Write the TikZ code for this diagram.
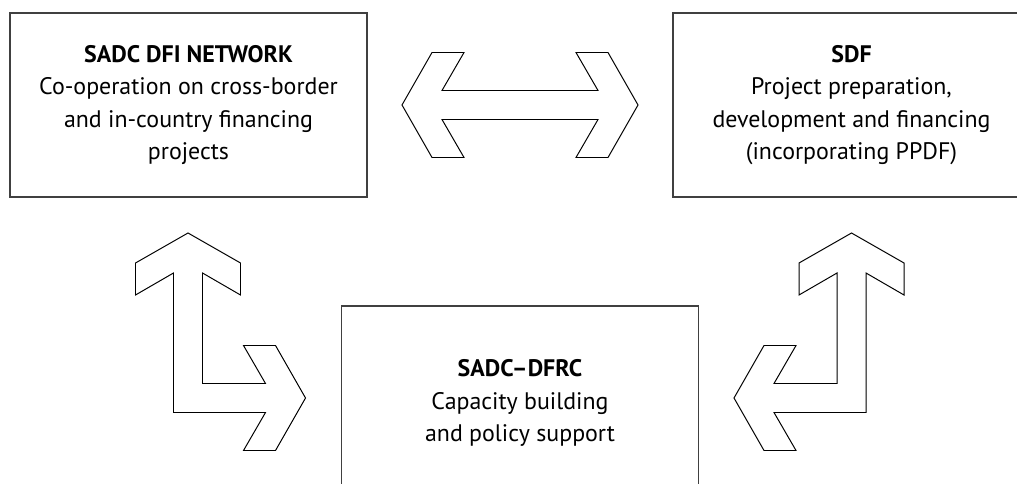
\documentclass[tikz,border=0pt]{standalone}
\usepackage{fontspec}
\setmainfont{PT Sans}
\usepackage{tikz}

\tikzset{
  box/.style={draw=black!75, line width=1pt, minimum width=89.25mm,
    minimum height=46mm, align=center,
    font=\fontsize{17}{23}\selectfont},
  outline/.style={draw=black, fill=white, line width=0.7pt, line join=miter},
  % hollow arrow going up, bending off to the right
  bend arrow/.pic={
    \draw[outline] (0,0) -- ++(52.5,30) -- ++(0,32) -- ++(-38,-22)
      -- ++(0,110.5) -- ++(63,0) -- ++(-22,-38) -- ++(32,0)
      -- ++(30,52.5) -- ++(-30,52.5) -- ++(-32,0) -- ++(22,-38)
      -- ++(-92,0) -- ++(0,-139.5) -- ++(-38,22) -- ++(0,-32) -- cycle;
  }
}

\begin{document}
\begin{tikzpicture}[x=0.25mm, y=-0.25mm]
        \useasboundingbox (0,0) rectangle (1017,484);
        % nodes
        \node[box] (dfi)  at (188.5, 105) {\textbf{SADC DFI NETWORK}\\Co-operation on cross-border\\and in-country financing\\projects};
        \node[box] (sdf)  at (851.5, 105) {\textbf{SDF}\\Project preparation,\\development and financing\\(incorporating PPDF)};
        \node[box, minimum height=48.5mm] (dfrc) at (520, 403) {\textbf{SADC--DFRC}\\Capacity building\\and policy support};
        % arrow tips
        \coordinate (link-l)  at (402, 105);
        \coordinate (dfi-up)  at (188, 233);
        \coordinate (sdf-up)  at (851.5, 233);
        % arrows
        \draw[outline] (link-l) -- ++(30,-52.5) -- ++(32,0) -- ++(-22,38)
          -- ++(156,0) -- ++(-22,-38) -- ++(32,0) -- ++(30,52.5)
          -- ++(-30,52.5) -- ++(-32,0) -- ++(22,-38) -- ++(-156,0)
          -- ++(22,38) -- ++(-32,0) -- cycle;
        \pic at (dfi-up) {bend arrow};
        \pic[xscale=-1] at (sdf-up) {bend arrow};
\end{tikzpicture}
\end{document}
